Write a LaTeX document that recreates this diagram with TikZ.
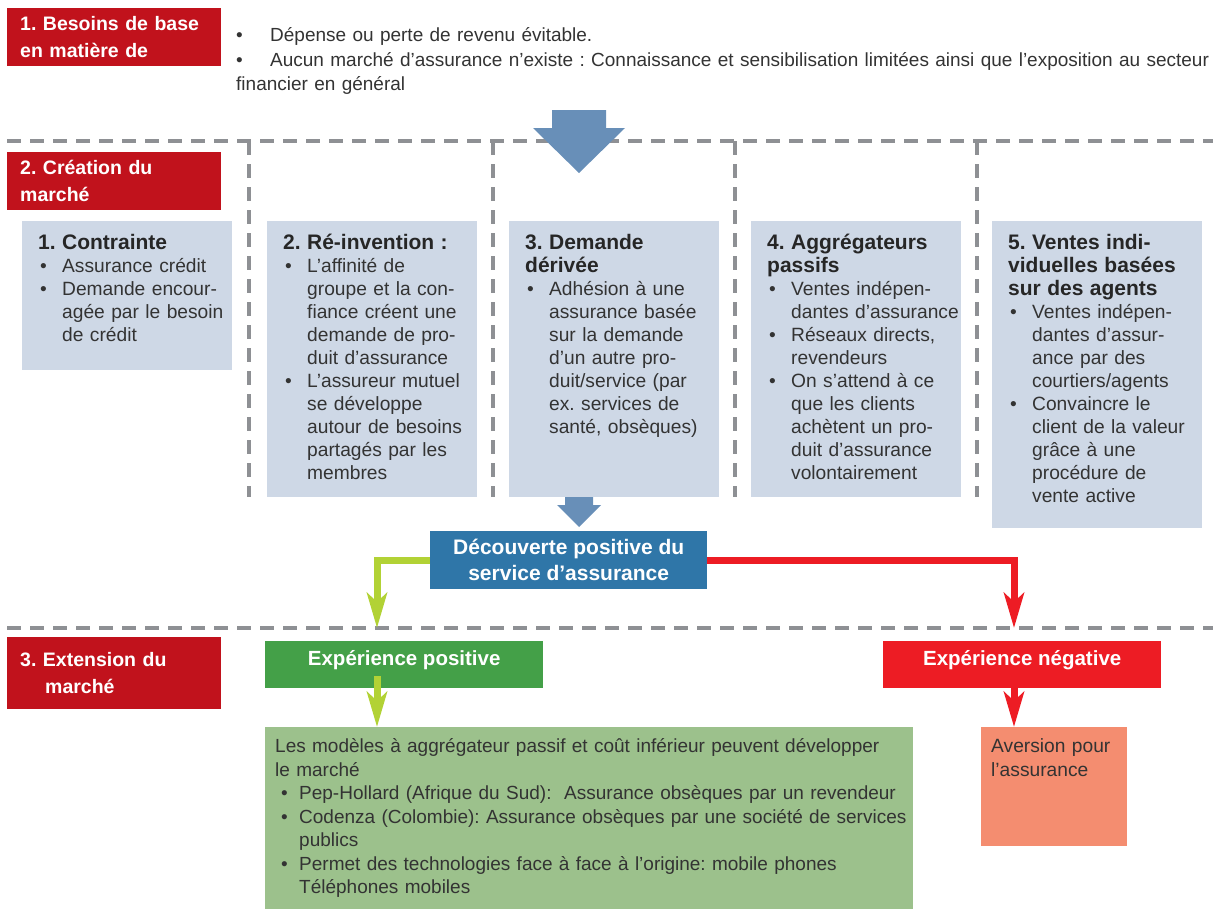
\documentclass[tikz,border=0pt]{standalone}
\usepackage{fontspec}
\setmainfont{Liberation Sans}
\usetikzlibrary{arrows.meta}

\definecolor{hdrred}{RGB}{193,18,28}
\definecolor{boxblue}{RGB}{206,216,230}
\definecolor{arrblue}{RGB}{104,143,184}
\definecolor{discblue}{RGB}{47,118,168}
\definecolor{lime}{RGB}{178,210,53}
\definecolor{negred}{RGB}{237,28,36}
\definecolor{posgreen}{RGB}{68,160,72}
\definecolor{lightgreen}{RGB}{156,193,140}
\definecolor{salmon}{RGB}{244,141,112}
\definecolor{dashgrey}{RGB}{142,144,148}
\definecolor{txtgrey}{RGB}{51,51,51}

\frenchspacing
\setlength\parindent{0pt}
\newlength\itmw
\newlength\itmx
\newcommand\firstitm{\makebox[\itmw][l]{\hspace{\itmx}\textbullet}}
\newcommand\itm{\par\noindent\firstitm}
\newcommand\nl{\newline\hspace*{\itmw}}
\newcommand\ttl[1]{{\fontsize{21}{23}\selectfont\bfseries\color{black!85}\strut #1}}
\newcommand\bodyfont{\fontsize{19.2}{23}\selectfont}

\begin{document}
\begin{tikzpicture}[x=1pt, y=-1pt,
  hdr/.style = {anchor=north west, fill=hdrred, text=white, minimum width=214pt,
    minimum height=#1, text width=188pt, inner xsep=13pt, align=left,
    font=\fontsize{19.5}{27}\selectfont\bfseries},
  hdr/.default = 58pt,
  col/.style = {anchor=north west, fill=boxblue, minimum width=210pt,
    minimum height=#1, inner sep=0pt},
  coltext/.style = {anchor=north west, text width=205pt, inner xsep=16pt,
    inner ysep=12.5pt, text=txtgrey, font=\bodyfont,
    execute at begin node={\raggedright\setlength\itmw{24pt}\setlength\itmx{2pt}}},
  sep/.style = {dashgrey, line width=4.5pt, dash pattern=on 14pt off 9pt},
  flow/.style = {line width=7pt, -{Stealth[length=35pt, width=20pt, inset=9pt]}},
  tag/.style = {anchor=north west, minimum width=278pt, minimum height=47pt,
    text=white, font=\fontsize{20.5}{23}\selectfont\bfseries,
    text height=13pt, text depth=11pt},
  ]
  \useasboundingbox (0,0) rectangle (1213,910);

  % section headers
  \node[hdr] (h1) at (7,8) {1. Besoins de base\\en matière de};
  \node[hdr] (h2) at (7,152) {2. Création du\\marché};
  \node[hdr=72pt] (h3) at (7,637) {3. Extension du\\\hspace*{25pt}marché};

  \node[anchor=north west, inner sep=0pt, text width=1000pt,
    text=txtgrey, font=\fontsize{19}{24.5}\selectfont,
    execute at begin node={\raggedright\setlength\itmw{34pt}\setlength\itmx{0pt}}]
    (need) at (236,24.3)
    {\firstitm\strut Dépense ou perte de revenu évitable.
     \itm Aucun marché d’assurance n’existe : Connaissance et sensibilisation limitées ainsi que l’exposition au secteur\newline financier en général};

  % separators
  \draw[sep] (7,141) -- (1213,141);
  \foreach \x in {249,493,735,977}
    \draw[sep] (\x,141) -- (\x,497);
  \draw[sep] (7,628) -- (1213,628);

  \coordinate (drop) at (579,110);
  \fill[arrblue, shift={(drop)}] (-27,0) -- (27,0) -- (27,18) -- (46,18)
    -- (0,63) -- (-46,18) -- (-27,18) -- cycle;

  % the five columns
  \node[col=149pt] (c1) at (22,221) {};
  \node[col=276pt] (c2) at (267,221) {};
  \node[col=276pt] (c3) at (509,221) {};
  \node[col=276pt] (c4) at (751,221) {};
  \node[col=307pt] (c5) at (992,221) {};

  \node[coltext] (t1) at (c1.north west)
    {\ttl{1. Contrainte}\itm Assurance crédit\itm Demande encour-\nl agée par le besoin\nl de crédit};
  \node[coltext] (t2) at (c2.north west)
    {\ttl{2. Ré-invention :}\itm L’affinité de\nl groupe et la con-\nl fiance créent une\nl demande de pro-\nl duit d’assurance\itm L’assureur mutuel\nl se développe\nl autour de besoins\nl partagés par les\nl membres};
  \node[coltext] (t3) at (c3.north west)
    {\ttl{3. Demande\newline dérivée}\itm Adhésion à une\nl assurance basée\nl sur la demande\nl d’un autre pro-\nl duit/service (par\nl ex. services de\nl santé, obsèques)};
  \node[coltext] (t4) at (c4.north west)
    {\ttl{4. Aggrégateurs\newline passifs}\itm Ventes indépen-\nl dantes d’assurance\itm Réseaux directs,\nl revendeurs\itm On s’attend à ce\nl que les clients\nl achètent un pro-\nl duit d’assurance\nl volontairement};
  \node[coltext] (t5) at (c5.north west)
    {\ttl{5. Ventes indi-\newline viduelles basées\newline sur des agents}\itm Ventes indépen-\nl dantes d’assur-\nl ance par des\nl courtiers/agents\itm Convaincre le\nl client de la valeur\nl grâce à une\nl procédure de\nl vente active};

  \coordinate (dip) at (579,497);
  \fill[arrblue, shift={(dip)}] (-14,0) -- (14,0) -- (14,8) -- (22,8)
    -- (0,30) -- (-22,8) -- (-14,8) -- cycle;

  \node[anchor=north west, fill=discblue, minimum width=277pt, minimum height=58pt,
    text=white, align=center, font=\fontsize{21}{26}\selectfont\bfseries]
    (disc) at (430,531) {Découverte positive du\\service d’assurance};

  \coordinate (gtip) at (377,628);
  \coordinate (rtip) at (1014,628);
  \draw[flow, lime] (disc.west) -| (gtip);
  \draw[flow, negred] (disc.east) -| (rtip);

  % market extension
  \node[tag, fill=posgreen] (pos) at (265,641) {Expérience positive};
  \node[tag, fill=negred] (neg) at (883,641) {Expérience négative};

  \node[anchor=north west, fill=lightgreen, minimum width=648pt,
    minimum height=182pt, inner sep=0pt] (ext) at (265,727) {};
  \node[anchor=north west, text width=640pt, inner xsep=10pt, inner ysep=9pt,
    text=txtgrey, font=\fontsize{19}{23.5}\selectfont,
    execute at begin node={\raggedright\setlength\itmw{24pt}\setlength\itmx{6pt}}]
    (extt) at (ext.north west)
    {\strut Les modèles à aggrégateur passif et coût inférieur peuvent développer\newline le marché
     \itm Pep-Hollard (Afrique du Sud):\ \ Assurance obsèques par un revendeur
     \itm Codenza (Colombie): Assurance obsèques par une société de services\nl publics
     \itm Permet des technologies face à face à l’origine: mobile phones\nl Téléphones mobiles};

  \node[anchor=north west, fill=salmon, minimum width=146pt,
    minimum height=119pt, inner sep=0pt] (avr) at (981,727) {};
  \node[anchor=north west, text width=140pt, inner xsep=10pt, inner ysep=9pt,
    text=txtgrey, align=left, font=\fontsize{19.2}{23.5}\selectfont]
    (avrt) at (avr.north west) {\strut Aversion pour\\l’assurance};

  \coordinate (gstart) at (377,676);
  \draw[flow, lime] (gstart) -- (gstart |- ext.north);
  \draw[flow, negred] (neg.south -| rtip) -- (rtip |- avr.north);
\end{tikzpicture}
\end{document}
